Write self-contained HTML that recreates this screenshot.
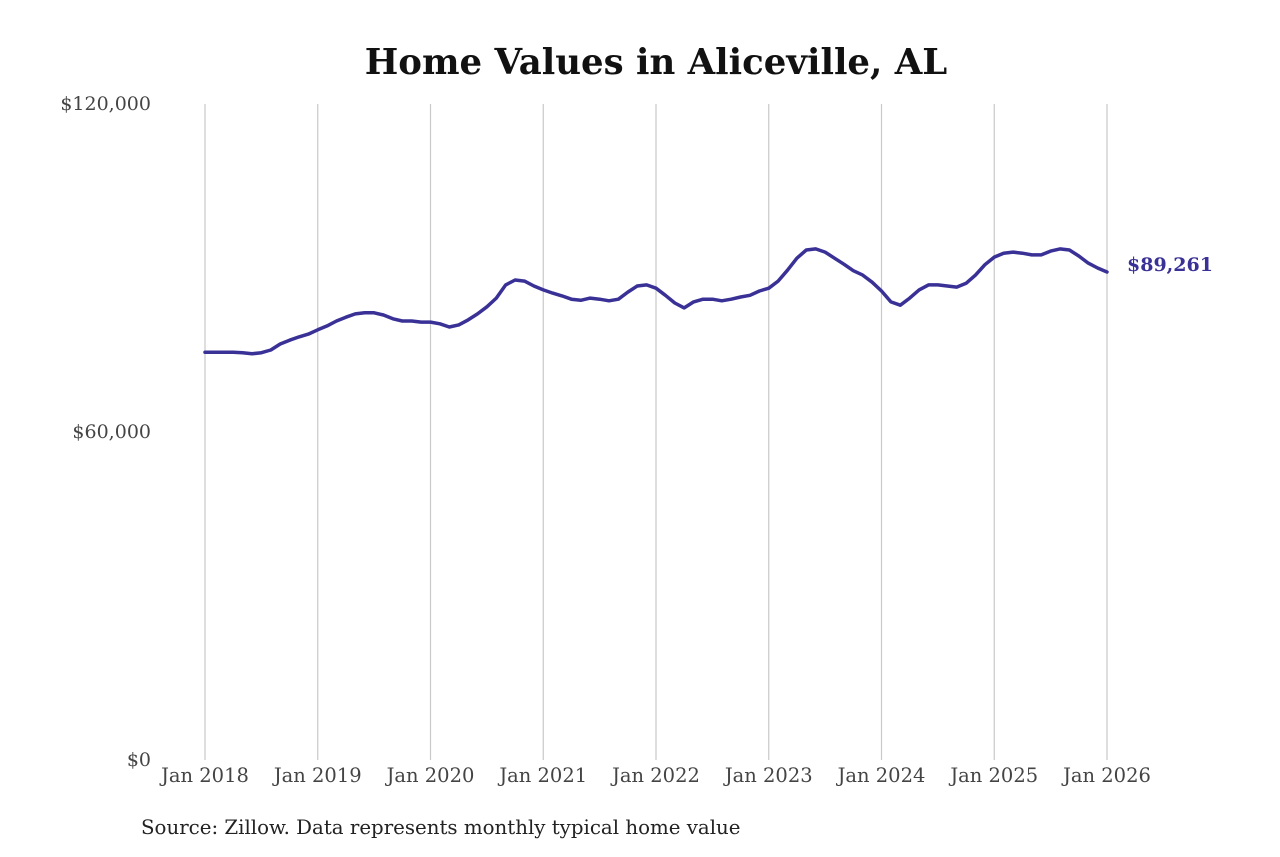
<!DOCTYPE html>
<html><head><meta charset="utf-8"><style>
body{margin:0;background:#fff;width:1280px;height:853px;overflow:hidden;font-family:"DejaVu Serif",serif}
</style></head><body>
<svg width="1280" height="853" id="chart" font-family="DejaVu Serif, serif">
<text x="656" y="74" text-anchor="middle" font-size="35.5" font-weight="bold" fill="#111">Home Values in Aliceville, AL</text>
<text x="141" y="834" font-size="19.8" fill="#222">Source: Zillow. Data represents monthly typical home value</text>
<g id="grid"></g><g id="yt"></g><g id="xt"></g><g id="ln"></g>
</svg>
<script>
const yTicks=[0,60000,120000];
const yTickLabels=["$0","$60,000","$120,000"];
const xYears=[2018,2019,2020,2021,2022,2023,2024,2025,2026];
const xTickLabels=["Jan 2018","Jan 2019","Jan 2020","Jan 2021","Jan 2022","Jan 2023","Jan 2024","Jan 2025","Jan 2026"];
const values=[
74.6,74.6,74.6,74.6,74.5,74.3,74.5,75.0,76.1,76.8,77.4,77.9,
78.7,79.4,80.3,81.0,81.6,81.8,81.8,81.4,80.7,80.3,80.3,80.1,
80.1,79.8,79.2,79.6,80.5,81.6,82.9,84.5,86.9,87.8,87.6,86.7,
86.0,85.4,84.9,84.3,84.1,84.5,84.3,84.0,84.3,85.6,86.7,86.9,
86.3,85.0,83.6,82.7,83.8,84.3,84.3,84.0,84.3,84.7,85.0,85.8,
86.3,87.6,89.6,91.8,93.3,93.5,92.9,91.8,90.7,89.5,88.7,87.4,
85.8,83.8,83.2,84.5,86.0,86.9,86.9,86.7,86.5,87.2,88.7,90.6,
92.0,92.7,92.9,92.7,92.4,92.4,93.1,93.5,93.3,92.2,90.9,90.0,
89.261];
const lastLabel="$89,261";
const NS="http://www.w3.org/2000/svg";
const X0=205,X1=1107,Y0=760,Y1=104;
const xs=t=>X0+(t-2018)/8*(X1-X0);
const ys=v=>Y0-v/120000*(Y0-Y1);
function mk(tag,at,parent,txt){const e=document.createElementNS(NS,tag);for(const k in at)e.setAttribute(k,at[k]);if(txt!=null)e.textContent=txt;document.getElementById(parent).appendChild(e);return e;}
xYears.forEach((y,i)=>{
 const l=mk('line',{x1:xs(y),x2:xs(y),y1:Y1,y2:Y0,stroke:'#c8c8c8','stroke-width':1.2},'grid');
 
 
 const t=mk('text',{x:xs(y),y:782,'text-anchor':'middle','font-size':19.5,fill:'#444'},'xt',xTickLabels[i]);
 
 
});
yTicks.forEach((v,i)=>{
 const t=mk('text',{x:151,y:ys(v)+6,'text-anchor':'end','font-size':19,fill:'#444'},'yt',yTickLabels[i]);
 
 
});
const pts=values.map((v,i)=>xs(2018+i/12).toFixed(1)+','+ys(v*1000).toFixed(1)).join(' ');
const pl=mk('polyline',{points:pts,fill:'none',stroke:'#3a3196','stroke-width':3.5,'stroke-linejoin':'round','stroke-linecap':'round'},'ln');


const lv=values[values.length-1]*1000;
const lb=mk('text',{x:1127,y:ys(lv)-1,'font-size':19,'font-weight':'bold',fill:'#3a3196'},'ln',lastLabel);


</script>
</body></html>
